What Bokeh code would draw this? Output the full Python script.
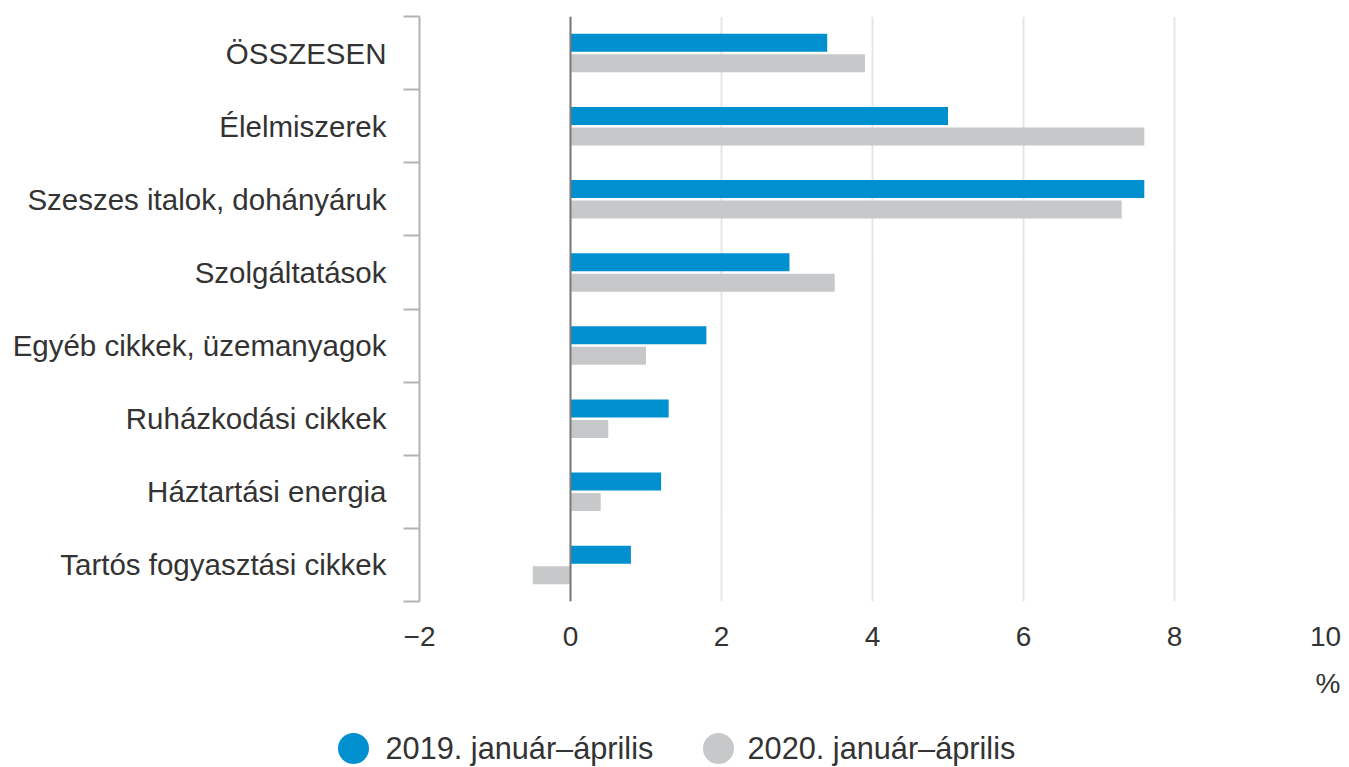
from bokeh.plotting import figure
from bokeh.models import (ColumnDataSource, Range1d, FixedTicker, Span)
from bokeh.core.properties import value
from bokeh.transform import dodge
from bokeh.embed import file_html
from bokeh.resources import INLINE

categories = ["ÖSSZESEN", "Élelmiszerek", "Szeszes italok, dohányáruk",
              "Szolgáltatások", "Egyéb cikkek, üzemanyagok", "Ruházkodási cikkek",
              "Háztartási energia", "Tartós fogyasztási cikkek"]
v2019 = [3.4, 5.0, 7.6, 2.9, 1.8, 1.3, 1.2, 0.8]
v2020 = [3.9, 7.6, 7.3, 3.5, 1.0, 0.5, 0.4, -0.5]
x_ticks = [-2, 0, 2, 4, 6, 8, 10]
series_names = ["2019. január–április", "2020. január–április"]
unit_label = "%"

BLUE = "#0090cf"
GRAY = "#c6c8ca"
TEXT = "#333333"
FONT = "Liberation Sans"
W = 1341

n = len(categories)
ypos = list(range(n))
src = ColumnDataSource(dict(y=ypos, cat=categories, a=v2019, b=v2020))

p = figure(width=W, height=660, output_backend="svg", toolbar_location=None,
           x_range=Range1d(-2, 10), y_range=Range1d(n - 0.5, -0.5),
           min_border_left=419, min_border_right=16, min_border_top=16,
           min_border_bottom=59)
p.outline_line_color = None

p.hbar(y=dodge("y", -0.14, range=p.y_range), left=0, right="a", height=0.245,
       source=src, fill_color=BLUE, line_color=None)
p.hbar(y=dodge("y", 0.14, range=p.y_range), left=0, right="b", height=0.245,
       source=src, fill_color=GRAY, line_color=None)

p.add_layout(Span(location=0, dimension="height", line_color="#7a7a7a", line_width=2))

# x axis
xa = p.xaxis[0]
xa.ticker = FixedTicker(ticks=x_ticks)
xa.axis_line_color = None
xa.major_tick_line_color = None
xa.minor_tick_line_color = None
xa.major_label_text_font = FONT
xa.major_label_text_font_size = "28px"
xa.major_label_text_color = TEXT
xa.major_label_standoff = 19
xa.major_label_overrides = {t: (("\u2212" + str(-t)) if t < 0 else str(t)) for t in x_ticks}

p.xgrid.ticker = FixedTicker(ticks=x_ticks)
p.xgrid.grid_line_color = "#e6e6e6"
p.xgrid.grid_line_width = 2
p.ygrid.grid_line_color = None

# y axis
ya = p.yaxis[0]
ya.ticker = FixedTicker(ticks=ypos, minor_ticks=[i - 0.5 for i in range(n + 1)])
ya.major_label_overrides = {i: c for i, c in zip(ypos, categories)}
ya.axis_line_color = "#b4b4b4"
ya.axis_line_width = 2
ya.major_tick_line_color = None
ya.major_tick_out = 0
ya.major_tick_in = 0
ya.minor_tick_line_color = "#b4b4b4"
ya.minor_tick_line_width = 2
ya.minor_tick_out = 16
ya.minor_tick_in = 0
ya.major_label_standoff = 17
ya.major_label_text_font = FONT
ya.major_label_text_font_size = "29.5px"
ya.major_label_text_color = TEXT

# strip below: unit label and legend (separate root, pixel coordinates)
LH = 107
lg = figure(width=W, height=LH, output_backend="svg", toolbar_location=None,
            x_range=Range1d(0, W), y_range=Range1d(0, LH),
            min_border=0, outline_line_color=None)
lg.axis.visible = False
lg.grid.visible = False
lg.text(x=[1340], y=[84], text=[unit_label], text_font=value(FONT),
        text_font_size="28px", text_baseline="middle", text_align="right",
        text_color=TEXT)
lsrc = ColumnDataSource(dict(cx=[353, 718], tx=[385, 747], y=[19, 19],
                             color=[BLUE, GRAY], label=series_names))
lg.scatter(x="cx", y="y", size=31, marker="circle", fill_color="color",
           line_color=None, source=lsrc)
lg.text(x="tx", y="y", text="label", source=lsrc, text_font=value(FONT),
        text_font_size="30.7px", text_baseline="middle", text_align="left",
        text_color=TEXT)

open("out.html", "w").write(file_html([p, lg], INLINE))
